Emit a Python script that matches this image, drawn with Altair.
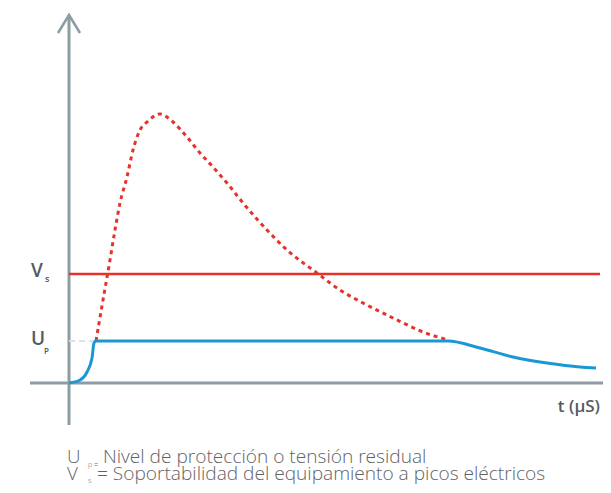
import altair as alt
import pandas as pd

# Surge protection response (arbitrary units)
blue_t = [0, 2.2, 3.6, 4.6, 5.0, 5.4, 75.8, 82.2, 88.8, 95.6, 102.2, 105.4]
blue_v = [0, 1.2, 4.4, 10.0, 16.0, 16.8, 16.8, 14.0, 10.4, 8.0, 6.4, 6.0]

red_t = [5.4, 6.8, 8.2, 9.2, 10.2, 11.6, 12.8, 14.2, 15.6, 18.2, 20.8, 23.6, 26.2,
         28.8, 31.6, 34.8, 39.6, 43.6, 49.6, 54.2, 58.8, 64.8, 70.8, 75.8]
red_v = [16.8, 33.2, 49.2, 61.2, 72.0, 82.4, 93.2, 101.2, 104.4, 107.6, 104.4, 98.4, 92.0,
         86.4, 80.0, 72.0, 61.2, 53.2, 44.0, 37.2, 32.0, 26.0, 20.4, 17.2]

Vs = 43.6
Up = 16.8
Up_t = 5.4
t_end = 106.2

yaxis_v = [-16.8, 147.2]
xaxis_t = [-7.8, 108.4]
arrow_t = [-2.2, 0, 2.2]
arrow_v = [140, 147.2, 140]

GRAY = "#8e9ca4"
RED = "#e5332a"
BLUE = "#1a98d5"
TXT = "#555a5e"
CAP = "#5f6366"
FONT = "Open Sans"

xs = alt.Scale(domain=[-12.2, 106.8], nice=False, zero=False)
ys = alt.Scale(domain=[-40.8, 150], nice=False, zero=False)
X = lambda f: alt.X(f, type="quantitative", scale=xs, axis=None)
Y = lambda f: alt.Y(f, type="quantitative", scale=ys, axis=None)

df_blue = pd.DataFrame({"t": blue_t, "v": blue_v})
df_red = pd.DataFrame({"t": red_t, "v": red_v})
df_vs = pd.DataFrame({"t": [0, t_end], "v": [Vs, Vs]})
df_up = pd.DataFrame({"t": [0, Up_t], "v": [Up, Up]})
df_ya = pd.DataFrame({"t": [0, 0], "v": yaxis_v, "o": [0, 1]})
df_xa = pd.DataFrame({"t": xaxis_t, "v": [0, 0]})
df_ar = pd.DataFrame({"t": arrow_t, "v": arrow_v, "o": [0, 1, 2]})

ya = alt.Chart(df_ya).mark_line(color=GRAY, strokeWidth=3).encode(x=X("t"), y=Y("v"), order="o:Q")
xa = alt.Chart(df_xa).mark_line(color=GRAY, strokeWidth=3).encode(x=X("t"), y=Y("v"))
ar = alt.Chart(df_ar).mark_line(color=GRAY, strokeWidth=2.5).encode(x=X("t"), y=Y("v"), order="o:Q")
upl = alt.Chart(df_up).mark_line(color="#d5e3ec", strokeWidth=2, strokeDash=[6, 4]).encode(x=X("t"), y=Y("v"))
vsl = alt.Chart(df_vs).mark_line(color=RED, strokeWidth=2.5).encode(x=X("t"), y=Y("v"))
red = alt.Chart(df_red).mark_line(color=RED, strokeWidth=3, strokeDash=[4, 4],
                                  interpolate="monotone").encode(x=X("t"), y=Y("v"))
blue = alt.Chart(df_blue).mark_line(color=BLUE, strokeWidth=3,
                                    interpolate="monotone").encode(x=X("t"), y=Y("v"))

one = pd.DataFrame({"a": [0]})
def txt(text, x, y_datum=None, y_px=None, size=16, weight="normal", dy=0, align="left", color=TXT):
    enc = {"x": alt.value(x), "text": alt.value(text)}
    if y_datum is not None:
        enc["y"] = alt.datum(y_datum, scale=ys)
    else:
        enc["y"] = alt.value(y_px)
    return alt.Chart(one).mark_text(align=align, baseline="alphabetic", fontSize=size,
                                    fontWeight=weight, font=FONT, dy=dy,
                                    color=color).encode(**enc)

labels = [
    txt("V", 23, y_datum=Vs, size=19, weight=600, dy=3),
    txt("s", 37, y_datum=Vs, size=9, weight=600, dy=8),
    txt("U", 23, y_datum=Up, size=19, weight=600, dy=4),
    txt("P", 36, y_datum=Up, size=8, weight=600, dy=13),
    txt("t (μS)", 592, y_datum=0, size=17, weight=600, dy=29, align="right"),
    txt("U", 59, y_px=455, size=18.8, weight=300, color=CAP),
    txt("p =", 80, y_px=459, size=7, weight=300, color=CAP),
    txt("Nivel de protección o tensión residual", 95, y_px=455, size=19.1, weight=300, color=CAP),
    txt("V", 59, y_px=472, size=18.8, weight=300, color=CAP),
    txt("s", 80, y_px=475, size=7, weight=300, color=CAP),
    txt("= Soportabilidad del equipamiento a picos eléctricos", 89, y_px=472, size=19.1, weight=300, color=CAP),
]

chart = alt.layer(ya, xa, ar, upl, vsl, red, blue, *labels).properties(
    width=595, height=477,
    autosize=alt.AutoSizeParams(type="none"),
    padding=0,
).configure_view(stroke=None)

chart.save("out.html", embed_options={"renderer": "svg", "actions": False})
